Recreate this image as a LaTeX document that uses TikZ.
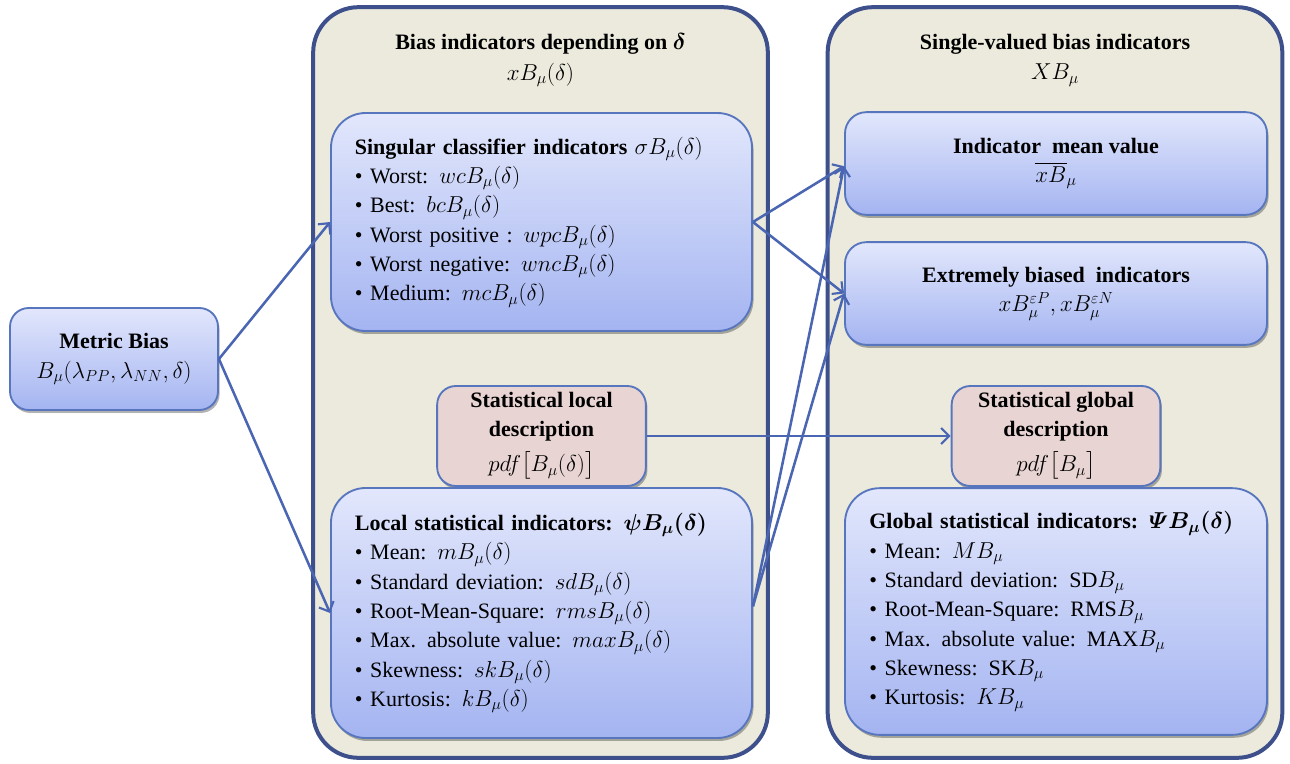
\documentclass[tikz,border=0pt]{standalone}
\usepackage{amsmath,bm}
\usepackage{fontspec}
\setmainfont{Liberation Serif}
\usetikzlibrary{arrows.meta,shadows}
\definecolor{panelfill}{RGB}{236,234,221}
\definecolor{panelborder}{RGB}{62,80,140}
\definecolor{boxborder}{RGB}{88,118,190}
\definecolor{boxtop}{RGB}{226,231,252}
\definecolor{boxbot}{RGB}{164,180,241}
\definecolor{pinkfill}{RGB}{232,212,210}
\definecolor{arrowcol}{RGB}{74,102,178}
\newcommand{\itm}{\textbullet\hspace{0.35em}}
\begin{document}
\begin{tikzpicture}[x=0.75pt,y=-0.75pt,
  panel/.style={draw=panelborder, line width=3pt, fill=panelfill, rounded corners=34pt,
    minimum width=341pt, minimum height=563pt, inner sep=0pt},
  bluebox/.style={draw=boxborder, line width=1.4pt, top color=boxtop, bottom color=boxbot,
    rounded corners=#1, inner sep=0pt,
    drop shadow={shadow xshift=1.2pt, shadow yshift=-2.2pt, opacity=0.3, fill=black}},
  bluebox/.default=20pt,
  pinkbox/.style={draw=boxborder, line width=1.4pt, fill=pinkfill, rounded corners=14pt,
    inner sep=0pt, align=center, minimum width=156.5pt, minimum height=75pt,
    drop shadow={shadow xshift=1.2pt, shadow yshift=-2.2pt, opacity=0.3, fill=black}},
  txt/.style={font=\fontsize{16.5}{22}\selectfont},
  conn/.style={draw=arrowcol, line width=1.9pt, -{Straight Barb[length=6pt,width=12pt,line width=1.6pt]}}
]
\useasboundingbox (0,0) rectangle (1290,764);
\fill[white] (0,0) rectangle (1290,764);

% panels
\node[panel] (lpanel) at (540.5,382.5) {};
\node[panel] (rpanel) at (1055,382.5) {};
\node[txt, align=center] (ltitle) at (540.5,60) {\textbf{Bias indicators depending on $\bm{\delta}$}\\[1pt] $xB_\mu(\delta)$};
\node[txt, align=center] (rtitle) at (1055,60) {\textbf{Single-valued bias indicators}\\[1pt] $XB_\mu$};

% left side
\node[bluebox=14pt, txt, align=center, minimum width=156pt, minimum height=76.5pt] (metric) at (114,359)
  {\textbf{Metric Bias}\\ $B_\mu(\lambda_{PP},\lambda_{NN},\delta)$};

\node[bluebox=26pt, txt, align=left, minimum width=315.75pt, minimum height=163.5pt, text width=280pt] (sing) at (541.5,222)
  {\textbf{Singular classifier indicators} $\sigma B_\mu(\delta)$\\
   \itm Worst: $wcB_\mu(\delta)$\\
   \itm Best: $bcB_\mu(\delta)$\\
   \itm Worst positive : $wpcB_\mu(\delta)$\\
   \itm Worst negative: $wncB_\mu(\delta)$\\
   \itm Medium: $mcB_\mu(\delta)$};

\node[pinkbox, txt] (locpdf) at (541.5,436)
  {\textbf{Statistical local}\\ \textbf{description}\\[4pt] $pdf\big[B_\mu(\delta)\big]$};

\node[bluebox=26pt, txt, align=left, minimum width=315.75pt, minimum height=187.5pt, text width=280pt] (locstat) at (541.5,613)
  {\textbf{Local statistical indicators: $\bm{\psi B_\mu(\delta)}$}\\
   \itm Mean: $mB_\mu(\delta)$\\
   \itm Standard deviation: $sdB_\mu(\delta)$\\
   \itm Root-Mean-Square: $rmsB_\mu(\delta)$\\
   \itm Max. absolute value: $maxB_\mu(\delta)$\\
   \itm Skewness: $skB_\mu(\delta)$\\
   \itm Kurtosis: $kB_\mu(\delta)$};

% right side
\node[bluebox=16pt, txt, align=center, minimum width=316.5pt, minimum height=77pt] (mean) at (1056,163.5)
  {\textbf{Indicator\ \ mean value}\\ $\overline{xB}_\mu$};
\node[bluebox=16pt, txt, align=center, minimum width=316.5pt, minimum height=77pt] (extreme) at (1056,293.5)
  {\textbf{Extremely biased\ \ indicators}\\ $xB_\mu^{\varepsilon P},xB_\mu^{\varepsilon N}$};
\node[pinkbox, txt] (globpdf) at (1056,436)
  {\textbf{Statistical global}\\ \textbf{description}\\[4pt] $pdf\big[B_\mu\big]$};
\node[bluebox=26pt, txt, align=left, minimum width=316.5pt, minimum height=185pt, text width=280pt] (globstat) at (1056,611.5)
  {\textbf{Global statistical indicators: $\bm{\varPsi B_\mu(\delta)}$}\\
   \itm Mean: $MB_\mu$\\
   \itm Standard deviation: $\mathrm{SD}B_\mu$\\
   \itm Root-Mean-Square: $\mathrm{RMS}B_\mu$\\
   \itm Max. absolute value: $\mathrm{MAX}B_\mu$\\
   \itm Skewness: $\mathrm{SK}B_\mu$\\
   \itm Kurtosis: $KB_\mu$};

% connectors
\draw[conn] (metric.east) -- (sing.west);
\draw[conn] (metric.east) -- (locstat.west);
\draw[conn] (sing.east) -- ([yshift=-2pt]mean.west);
\draw[conn] (sing.east) -- (extreme.west);
\draw[conn] ([yshift=5pt]locstat.east) -- ([yshift=-2pt]mean.west);
\draw[conn] ([yshift=5pt]locstat.east) -- (extreme.west);
\draw[conn] (locpdf.east) -- (globpdf.west);
\end{tikzpicture}
\end{document}
